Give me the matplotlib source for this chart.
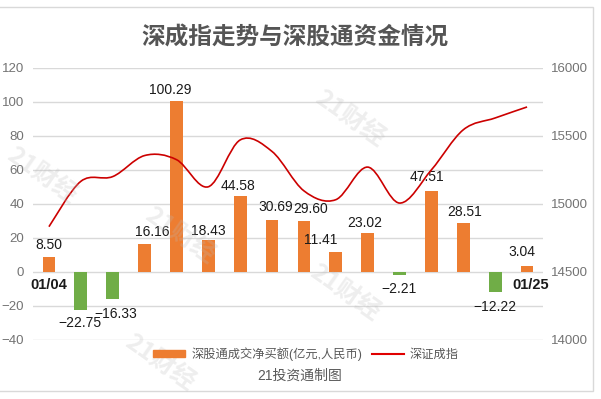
import matplotlib
matplotlib.use("Agg")
import matplotlib.pyplot as plt
import numpy as np
from matplotlib.path import Path
from matplotlib.patches import PathPatch, Rectangle
from matplotlib.lines import Line2D

plt.rcParams['font.family'] = ['Liberation Sans', 'Noto Sans CJK SC', 'DejaVu Sans']

# data
dates = ['01/04', '01/05', '01/06', '01/07', '01/08', '01/11', '01/12', '01/13',
         '01/14', '01/15', '01/18', '01/19', '01/20', '01/21', '01/22', '01/25']
net_buy = [8.50, -22.75, -16.33, 16.16, 100.29, 18.43, 44.58, 30.69,
           29.60, 11.41, 23.02, -2.21, 47.51, 28.51, -12.22, 3.04]
szci = [14831, 15165, 15200, 15355, 15325, 15125, 15470, 15385,
        15095, 15030, 15270, 15005, 15250, 15545, 15632, 15713]

left_ticks = [-40, -20, 0, 20, 40, 60, 80, 100, 120]
right_ticks = [14000, 14500, 15000, 15500, 16000]

# label nudges in pixels (dx, dy) so they sit like the original
label_offsets = [(0, 12), (-1, -13), (3, -15), (8, 12), (-6, 11), (0, 9), (-2, 10), (4, 13),
                 (7, 12), (-15, 12), (-3, 10), (-1, -14), (-4, 14), (1, 11), (0, -15), (-5, 14)]

ORANGE = '#ED7D31'
GREEN = '#70AD47'
RED = '#cc0000'
GRID = '#d9d9d9'
TICK = '#737373'
CJK = ['Noto Sans CJK SC', 'DejaVu Sans']

fig = plt.figure(figsize=(6.01, 3.99), dpi=100)
ax = fig.add_axes([33 / 601, 1 - 339.5 / 399, (543 - 33) / 601, (339.5 - 68) / 399])

x = np.arange(len(dates))
colors = [ORANGE if v >= 0 else GREEN for v in net_buy]
ax.bar(x, net_buy, width=0.4, color=colors, zorder=2)

ax.set_xlim(-0.5, len(dates) - 0.5)
ax.set_ylim(-40, 120)
ax.set_yticks(left_ticks)
ax.yaxis.grid(True, color=GRID, linewidth=1)
ax.set_axisbelow(True)
ax.set_xticks([])
ax.tick_params(axis='y', length=0, pad=6.5, labelsize=9.5, labelcolor=TICK)
for s in ax.spines.values():
    s.set_visible(False)

for i, v in enumerate(net_buy):
    txt = f'{v:.2f}'.replace('-', '\u2212')
    dx, dy = label_offsets[i]
    ax.annotate(txt, (x[i], v), xytext=(dx, dy), textcoords='offset pixels',
                ha='center', va='center', fontsize=10, color='#1a1a1a', zorder=4)

# first / last date labels
ax.annotate(dates[0], (x[0], 0), xytext=(0, -13), textcoords='offset pixels',
            ha='center', va='center', fontsize=10.5, fontweight='bold', color='#1a1a1a')
ax.annotate(dates[-1], (x[-1], 0), xytext=(4, -13), textcoords='offset pixels',
            ha='center', va='center', fontsize=10.5, fontweight='bold', color='#1a1a1a')

# right axis with smoothed index line
ax2 = ax.twinx()
ax2.set_ylim(14000, 16000)
ax2.set_yticks(right_ticks)
ax2.tick_params(axis='y', length=0, pad=6, labelsize=9.5, labelcolor=TICK)
for s in ax2.spines.values():
    s.set_visible(False)

pts = np.column_stack([x, szci]).astype(float)
ext = np.vstack([pts[0], pts, pts[-1]])
verts = [tuple(pts[0])]
codes = [Path.MOVETO]
for i in range(len(pts) - 1):
    p0, p1, p2, p3 = ext[i], ext[i + 1], ext[i + 2], ext[i + 3]
    c1 = p1 + (p2 - p0) / 6
    c2 = p2 - (p3 - p1) / 6
    verts += [tuple(c1), tuple(c2), tuple(p2)]
    codes += [Path.CURVE4] * 3
ax2.add_patch(PathPatch(Path(verts, codes), fill=False, edgecolor=RED, linewidth=1.2, zorder=3))

# title, legend, caption
fig.text(295 / 601, 1 - 38 / 399, '深成指走势与深股通资金情况', ha='center', va='center',
         fontsize=17, fontweight='bold', color='#555555', family=CJK)

handles = [Rectangle((0, 0), 1, 1, color=ORANGE), Line2D([0], [0], color='#e00000', linewidth=1.5)]
fig.legend(handles, ['深股通成交净买额(亿元,人民币)', '深证成指'], loc='center',
           bbox_to_anchor=(306 / 601, 1 - 354 / 399), ncol=2, frameon=False,
           fontsize=8.8, labelcolor='#595959', handlelength=2.6, handleheight=0.45,
           columnspacing=0.8, handletextpad=0.5)
fig.text(300 / 601, 1 - 376 / 399, '21投资通制图', ha='center', va='center',
         fontsize=10, color='#595959')

# faint watermarks
for wx, wy in [(180, 235), (350, 118), (345, 292), (160, 362), (42, 175)]:
    fig.text(wx / 601, 1 - wy / 399, '21财经', ha='center', va='center', rotation=-35,
             fontsize=18, fontweight='bold', fontstyle='italic', color='#bbbbbb', alpha=0.25,
             family=CJK)

# outer frame
fig.patches.append(Rectangle((-0.01, 1 - 391 / 399), 593 / 601 + 0.01, (391 - 7) / 399,
                             transform=fig.transFigure, fill=False, edgecolor=GRID, linewidth=1))

fig.savefig('out.png', dpi=100)
